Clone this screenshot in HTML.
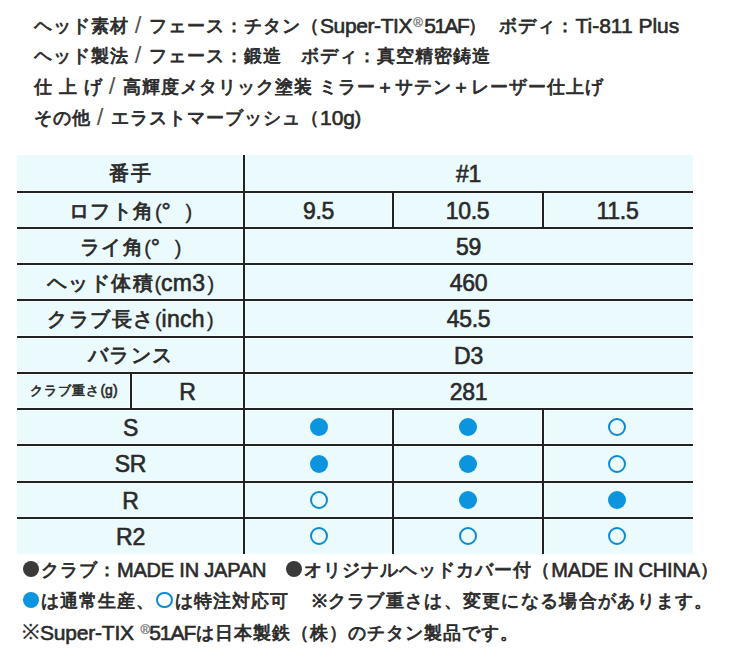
<!DOCTYPE html>
<html><head><meta charset="utf-8">
<style>
html,body{margin:0;padding:0;background:#fff;}
body{width:731px;height:659px;position:relative;overflow:hidden;font-family:"Liberation Sans",sans-serif;color:#2a2a2a;}
.t{position:absolute;white-space:nowrap;font-size:18px;line-height:24px;letter-spacing:1px;-webkit-text-stroke:0.8px #2a2a2a;}
.l{font-size:21px;letter-spacing:0;-webkit-text-stroke:0.6px #2a2a2a;}
.t .l{position:relative;top:1px;}
.t .f{font-size:20px;letter-spacing:-0.2px;}
.sl{font-size:24px;letter-spacing:0;-webkit-text-stroke:0;color:#555;position:relative;top:1px;left:-1px;}
.reg{display:inline-block;font-size:13px;letter-spacing:0;position:relative;top:-5px;color:#777;-webkit-text-stroke:0.3px #777;margin:0 1.5px 0 1px;}
#tbl{position:absolute;left:17px;top:155px;width:676px;height:399px;background:#eafafd;}
.h{position:absolute;height:2px;background:#222;left:17px;width:676px;}
.v{position:absolute;width:2px;background:#222;}
.hl{box-shadow:0 0 0 1px rgba(255,255,255,.55);}
.c{position:absolute;text-align:center;font-size:20px;line-height:36px;height:36px;white-space:nowrap;letter-spacing:1.5px;-webkit-text-stroke:0.8px #2a2a2a;}
.c .l{font-size:23px;letter-spacing:-0.3px;position:relative;top:1px;-webkit-text-stroke:0.6px #2a2a2a;}
.c .p{font-size:20px;letter-spacing:0;-webkit-text-stroke:0.3px #2a2a2a;}
.dot{position:absolute;width:18px;height:18px;border-radius:50%;background:#0c95de;}
.ring{position:absolute;width:14px;height:14px;border-radius:50%;border:2px solid #0c8ad4;}
.bd{display:inline-block;width:16px;height:16px;border-radius:50%;background:#3a3a3a;vertical-align:-1px;margin:0 2px 0 1px;}
.bb{display:inline-block;width:16px;height:16px;border-radius:50%;background:#0c95de;vertical-align:-1px;margin:0 2px 0 1px;}
.bo{display:inline-block;width:12.5px;height:12.5px;border-radius:50%;border:2px solid #0c8ad4;vertical-align:-1px;margin:0 2px 0 1px;}
</style></head><body>
<div class="t" style="left:34px;top:12px;">ヘッド素材<span class="sl"> / </span>フェース：チタン（<span class="l" style="letter-spacing:-0.4px">Super-TIX</span><span class="reg">®</span><span class="l" style="letter-spacing:-1.5px">51AF</span>）<span style="display:inline-block;width:12px"></span>ボディ：<span class="l">Ti-811 Plus</span></div>
<div class="t" style="left:34px;top:42px;">ヘッド製法<span class="sl"> / </span>フェース：鍛造　ボディ：真空精密鋳造</div>
<div class="t" style="left:34px;top:73px;">仕 上 げ<span class="sl"> / </span>高輝度メタリック塗装 ミラー＋サテン＋レーザー仕上げ</div>
<div class="t" style="left:34px;top:104px;">その他<span class="sl"> / </span>エラストマーブッシュ（<span class="l">10g</span>)</div>

<div id="tbl"></div>
<div class="h hl" style="top:191px"></div>
<div class="h hl" style="top:227px"></div>
<div class="h hl" style="top:263px"></div>
<div class="h hl" style="top:299px"></div>
<div class="h hl" style="top:336px"></div>
<div class="h hl" style="top:372px"></div>
<div class="h hl" style="top:408px"></div>
<div class="h hl" style="top:444px"></div>
<div class="h hl" style="top:481px"></div>
<div class="h hl" style="top:517px"></div>
<div class="v hl" style="left:243px;top:155px;height:399px"></div>
<div class="v hl" style="left:392px;top:191px;height:37px"></div>
<div class="v hl" style="left:542px;top:191px;height:37px"></div>
<div class="v hl" style="left:392px;top:408px;height:146px"></div>
<div class="v hl" style="left:542px;top:408px;height:146px"></div>
<div class="v hl" style="left:130px;top:372px;height:37px"></div>
<div class="h" style="top:191px"></div>
<div class="h" style="top:227px"></div>
<div class="h" style="top:263px"></div>
<div class="h" style="top:299px"></div>
<div class="h" style="top:336px"></div>
<div class="h" style="top:372px"></div>
<div class="h" style="top:408px"></div>
<div class="h" style="top:444px"></div>
<div class="h" style="top:481px"></div>
<div class="h" style="top:517px"></div>
<div class="v" style="left:243px;top:155px;height:399px"></div>
<div class="v" style="left:392px;top:191px;height:37px"></div>
<div class="v" style="left:542px;top:191px;height:37px"></div>
<div class="v" style="left:392px;top:408px;height:146px"></div>
<div class="v" style="left:542px;top:408px;height:146px"></div>
<div class="v" style="left:130px;top:372px;height:37px"></div>

<div class="c" style="left:17px;width:227px;top:155px">番手</div>
<div class="c" style="left:244px;width:449px;top:155px"><span class="l">#1</span></div>
<div class="c" style="left:17px;width:227px;top:192px">ロフト角<span class="l"><span class="p">(</span>°<span style="display:inline-block;width:15px"></span><span class="p">)</span></span></div>
<div class="c" style="left:244px;width:149px;top:192px"><span class="l">9.5</span></div>
<div class="c" style="left:393px;width:149px;top:192px"><span class="l">10.5</span></div>
<div class="c" style="left:542px;width:151px;top:192px"><span class="l">11.5</span></div>
<div class="c" style="left:17px;width:227px;top:228px">ライ角<span class="l"><span class="p">(</span>°<span style="display:inline-block;width:15px"></span><span class="p">)</span></span></div>
<div class="c" style="left:244px;width:449px;top:228px"><span class="l">59</span></div>
<div class="c" style="left:17px;width:227px;top:264px">ヘッド体積<span class="l"><span class="p">(</span><span style="letter-spacing:0.3px">cm3</span><span class="p" style="margin-left:2px">)</span></span></div>
<div class="c" style="left:244px;width:449px;top:264px"><span class="l">460</span></div>
<div class="c" style="left:17px;width:227px;top:300px">クラブ長さ<span class="l"><span class="p">(</span><span style="letter-spacing:0.3px">inch</span><span class="p" style="margin-left:2px">)</span></span></div>
<div class="c" style="left:244px;width:449px;top:300px"><span class="l">45.5</span></div>
<div class="c" style="left:17px;width:227px;top:337px">バランス</div>
<div class="c" style="left:244px;width:449px;top:337px"><span class="l">D3</span></div>
<div class="c" style="left:17px;width:114px;top:372px;font-size:13px;letter-spacing:1px;-webkit-text-stroke:0.6px #2a2a2a">クラブ重さ<span style="font-size:14px;letter-spacing:0">(g)</span></div>
<div class="c" style="left:131px;width:113px;top:373px"><span class="l">R</span></div>
<div class="c" style="left:244px;width:449px;top:373px"><span class="l">281</span></div>
<div class="c" style="left:17px;width:227px;top:409px"><span class="l">S</span></div>
<div class="c" style="left:17px;width:227px;top:445px"><span class="l">SR</span></div>
<div class="c" style="left:17px;width:227px;top:482px"><span class="l">R</span></div>
<div class="c" style="left:17px;width:227px;top:518px"><span class="l">R2</span></div>

<div class="dot" style="left:310px;top:418px"></div>
<div class="dot" style="left:459px;top:418px"></div>
<div class="ring" style="left:608px;top:418px"></div>
<div class="dot" style="left:310px;top:455px"></div>
<div class="dot" style="left:459px;top:455px"></div>
<div class="ring" style="left:608px;top:455px"></div>
<div class="ring" style="left:310px;top:491px"></div>
<div class="dot" style="left:459px;top:491px"></div>
<div class="dot" style="left:608px;top:491px"></div>
<div class="ring" style="left:310px;top:527px"></div>
<div class="ring" style="left:459px;top:527px"></div>
<div class="ring" style="left:608px;top:527px"></div>

<div class="t" style="left:22px;top:557px;"><span class="bd"></span>クラブ：<span class="l f">MADE IN JAPAN</span>　<span class="bd"></span>オリジナルヘッドカバー付（<span class="l f">MADE IN CHINA</span>）</div>
<div class="t" style="left:22px;top:589px;"><span class="bb"></span>は通常生産、<span class="bo"></span>は特注対応可<span style="display:inline-block;width:23px"></span><span style="letter-spacing:1.3px">※クラブ重さは、変更になる場合があります。</span></div>
<div class="t" style="left:22px;top:620px;"><span style="-webkit-text-stroke:0.2px #2a2a2a;font-size:21px;letter-spacing:0">※</span><span class="l" style="letter-spacing:-0.2px">Super-TIX </span><span class="reg" style="margin-right:-1px">®</span><span class="l" style="letter-spacing:-1px">51AF</span><span style="letter-spacing:1px;margin-left:1px">は日本製鉄（株）のチタン製品です。</span></div>
</body></html>
